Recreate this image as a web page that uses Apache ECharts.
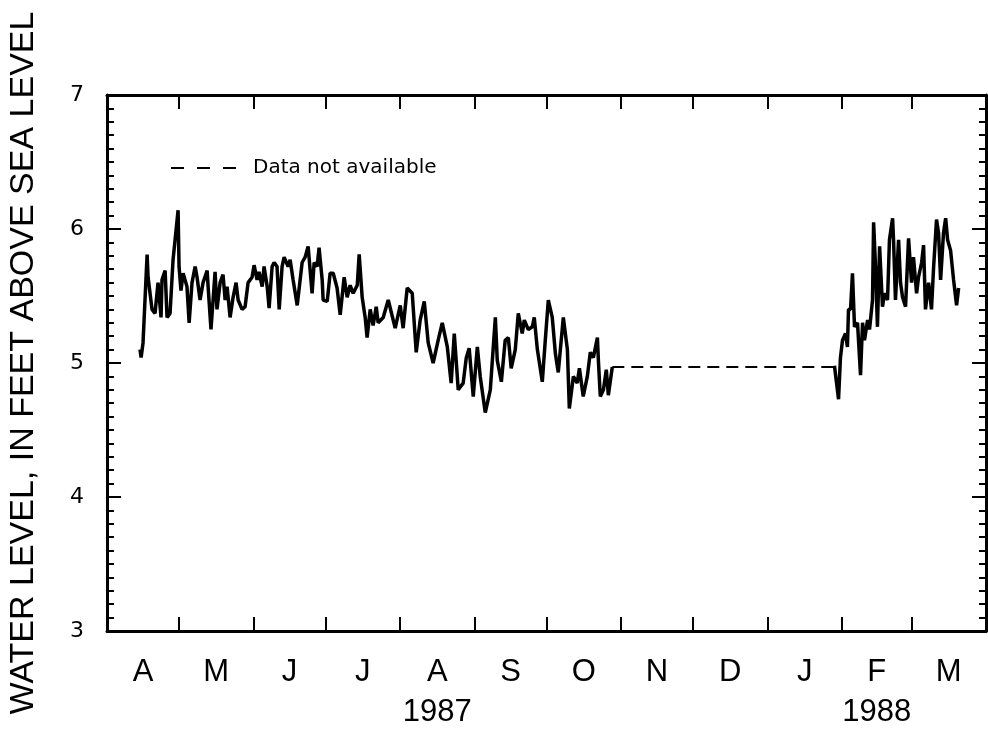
<!DOCTYPE html>
<html>
<head>
<meta charset="utf-8">
<script src="https://cdn.jsdelivr.net/npm/echarts@6/dist/echarts.min.js"></script>
<style>html,body{margin:0;padding:0;background:#fff}#chart{width:988px;height:736px}</style>
</head>
<body>
<div id="chart"></div>
<script>
// Days counted from 1 April 1987 (day 0) to 1 April 1988 (day 366)
const monthStarts = [0, 30, 61, 91, 122, 153, 183, 214, 244, 275, 306, 335, 366];
const monthLetters = ['A', 'M', 'J', 'J', 'A', 'S', 'O', 'N', 'D', 'J', 'F', 'M'];
const yearUnderMonth = {4: '1987', 10: '1988'};
const yTicks = [3, 4, 5, 6, 7];

// Record, April - October 1987 (day of record, water level in feet)
const days1987 = [13.75,14.2,15.0,16.7,17.1,18.75,20.0,21.25,22.5,22.9,24.2,25.0,26.25,27.5,28.3,29.6,30.0,30.8,31.7,33.3,34.2,35.4,36.7,37.5,38.75,40.0,41.7,42.1,43.3,45.0,45.8,47.1,48.3,49.2,50.0,51.25,52.5,53.75,54.6,56.25,57.5,58.75,60.4,61.25,62.5,63.3,64.6,65.4,66.7,67.5,68.75,69.6,70.8,71.7,72.9,73.75,75.4,76.25,77.5,79.2,81.25,82.5,83.75,85.4,86.25,87.5,88.3,89.6,90.0,91.7,92.9,94.2,95.8,97.1,98.75,100.0,101.25,102.5,104.2,105.0,106.25,107.5,108.3,109.6,110.8,112.1,112.9,115.0,117.1,120.0,122.1,123.3,125.0,127.1,128.75,130.4,132.1,133.75,135.8,137.9,139.6,141.7,143.3,144.6,146.25,148.3,149.6,150.8,152.5,154.2,155.4,157.5,159.6,161.7,162.5,164.2,165.8,167.1,168.3,170.0,171.25,172.9,173.75,175.4,177.1,177.9,179.2,181.25,182.5,183.75,185.4,186.7,187.9,190.0,191.7,192.5,194.2,195.8,196.7,198.3,200.0,201.25,202.5,204.2,204.6,205.4,206.7,207.9,208.75,210.4];
const level1987 = [5.10,5.04,5.15,5.81,5.64,5.40,5.37,5.60,5.34,5.62,5.69,5.34,5.37,5.77,5.78,6.14,5.72,5.54,5.67,5.57,5.30,5.60,5.72,5.64,5.47,5.60,5.69,5.57,5.25,5.68,5.40,5.60,5.66,5.47,5.57,5.34,5.49,5.60,5.47,5.40,5.42,5.60,5.64,5.73,5.62,5.68,5.57,5.72,5.57,5.41,5.72,5.75,5.72,5.40,5.72,5.79,5.72,5.77,5.62,5.43,5.75,5.79,5.87,5.52,5.75,5.72,5.86,5.62,5.47,5.46,5.67,5.67,5.56,5.36,5.64,5.49,5.58,5.52,5.58,5.81,5.49,5.34,5.19,5.40,5.28,5.42,5.30,5.34,5.47,5.26,5.43,5.26,5.56,5.52,5.08,5.32,5.46,5.15,5.00,5.17,5.30,5.12,4.85,5.22,4.80,4.85,5.04,5.11,4.75,5.12,4.90,4.63,4.80,5.34,5.02,4.86,5.17,5.19,4.96,5.10,5.37,5.22,5.32,5.25,5.27,5.34,5.10,4.86,5.17,5.47,5.34,5.07,4.93,5.34,5.10,4.66,4.90,4.85,4.96,4.75,4.90,5.08,5.04,5.19,5.02,4.75,4.80,4.95,4.76,4.97];

// Gap in record (data not available)
const daysGap = [210.4, 302.9];
const levelGap = [4.97, 4.97];

// Record, late January - March 1988
const days1988 = [302.9,304.6,305.4,306.25,307.5,308.3,308.75,309.6,310.4,311.25,312.5,313.75,314.6,315.4,316.7,317.5,318.75,319.2,320.0,320.8,321.7,322.9,323.75,325.0,325.8,327.1,327.5,328.3,329.6,330.4,331.25,332.5,333.75,335.0,335.8,337.1,337.9,339.2,340.0,340.8,342.1,343.3,344.2,345.4,346.25,347.1,348.3,349.2,350.0,351.25,352.5,353.75,354.6];
const level1988 = [4.98,4.73,5.04,5.17,5.22,5.12,5.40,5.40,5.67,5.27,5.30,4.91,5.30,5.17,5.32,5.25,5.47,6.05,5.72,5.27,5.87,5.42,5.52,5.47,5.92,6.08,5.92,5.47,5.92,5.60,5.49,5.42,5.93,5.60,5.79,5.52,5.64,5.75,5.88,5.40,5.60,5.40,5.72,6.07,5.97,5.62,5.97,6.08,5.92,5.84,5.62,5.43,5.56];

const pairs = (xs, ys) => xs.map((x, i) => [x, ys[i]]);
const midMonths = monthStarts.slice(0, -1).map((s, i) => (s + monthStarts[i + 1]) / 2);
const innerStarts = monthStarts.slice(1, -1);
const monthLabel = v => {
  const i = midMonths.findIndex(m => Math.abs(m - v) < 0.01);
  if (i < 0) return '';
  return yearUnderMonth[i] ? monthLetters[i] + '\n' + yearUnderMonth[i] : monthLetters[i];
};

const tickStyle = {color: '#000', width: 2};
const chart = echarts.init(document.getElementById('chart'), null, {renderer: 'canvas'});
const xBase = {
  type: 'value', min: monthStarts[0], max: monthStarts[monthStarts.length - 1],
  splitLine: {show: false},
  axisLine: {show: true, onZero: false, lineStyle: {color: '#000', width: 3}},
  axisTick: {show: true, inside: true, length: 14, lineStyle: tickStyle, customValues: innerStarts}
};
const yBase = {
  type: 'value', min: yTicks[0], max: yTicks[yTicks.length - 1], interval: 1,
  splitLine: {show: false},
  axisLine: {show: true, onZero: false, lineStyle: {color: '#000', width: 3}},
  axisTick: {show: true, inside: true, length: 14, lineStyle: tickStyle},
  minorTick: {show: true, splitNumber: 10, length: 7, lineStyle: tickStyle}
};
chart.setOption({
  animation: false,
  backgroundColor: '#fff',
  grid: {left: 107, right: 2, top: 95, bottom: 105, containLabel: false, outerBoundsMode: 'none'},
  legend: {
    data: ['Data not available'],
    left: 165, top: 153,
    itemWidth: 72, itemHeight: 20,
    itemStyle: {opacity: 0},
    lineStyle: {type: [13, 13], width: 2, color: '#000'},
    textStyle: {fontFamily: 'DejaVu Sans', fontSize: 20, color: '#000', padding: [0, 0, 0, 5]}
  },
  xAxis: [
    Object.assign({}, xBase, {
      position: 'bottom',
      axisLabel: {
        show: true, customValues: midMonths, formatter: monthLabel, margin: 21,
        fontFamily: 'Liberation Sans', fontSize: 31, lineHeight: 40, color: '#000'
      }
    }),
    Object.assign({}, xBase, {position: 'top', axisLabel: {show: false}})
  ],
  yAxis: [
    Object.assign({}, yBase, {
      position: 'left',
      name: 'WATER LEVEL, IN FEET ABOVE SEA LEVEL',
      nameLocation: 'middle', nameRotate: 90, nameGap: 66,
      nameTextStyle: {fontFamily: 'Liberation Sans', fontSize: 34, color: '#000'},
      axisLabel: {show: true, margin: 23, fontFamily: 'DejaVu Sans', fontSize: 22, color: '#000'}
    }),
    Object.assign({}, yBase, {position: 'right', axisLabel: {show: false}})
  ],
  series: [
    {name: 'Record 1987', type: 'line', data: pairs(days1987, level1987), showSymbol: false, symbol: 'none',
     lineStyle: {color: '#000', width: 3.5}, silent: true},
    {name: 'Data not available', type: 'line', data: pairs(daysGap, levelGap), showSymbol: false, symbol: 'none',
     lineStyle: {color: '#000', width: 2, type: [12, 7]}, itemStyle: {color: '#000', opacity: 0}, silent: true},
    {name: 'Record 1988', type: 'line', data: pairs(days1988, level1988), showSymbol: false, symbol: 'none',
     lineStyle: {color: '#000', width: 3.5}, silent: true}
  ]
});
</script>
</body>
</html>
